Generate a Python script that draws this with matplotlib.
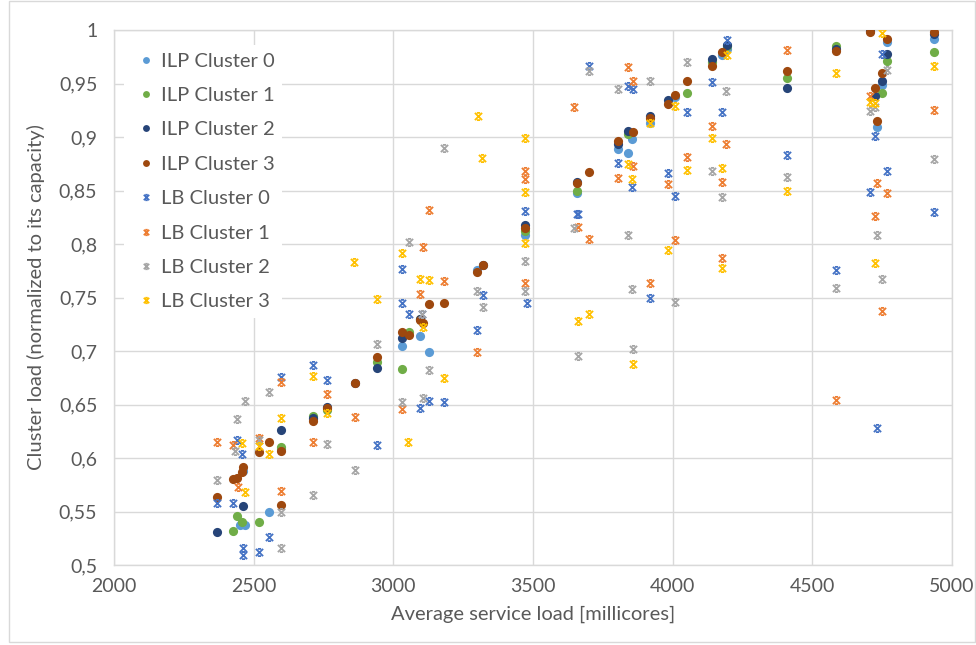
import matplotlib
matplotlib.use("Agg")
import matplotlib.pyplot as plt
from matplotlib.path import Path
from matplotlib.ticker import FixedLocator, FuncFormatter
from matplotlib.patches import Rectangle

plt.rcParams['font.family'] = ['Lato', 'DejaVu Sans']

series_names = ["ILP Cluster 0", "ILP Cluster 1", "ILP Cluster 2", "ILP Cluster 3",
                "LB Cluster 0", "LB Cluster 1", "LB Cluster 2", "LB Cluster 3"]

ilp0_x = [2451, 2469, 2463, 2556, 2597, 2713, 3030, 3096, 3129, 3301, 3473, 3656, 3805, 3839, 3853,
          3919, 4009, 4175, 4193, 4731, 4749, 4767, 4935]
ilp0_y = [0.537, 0.537, 0.588, 0.550, 0.608, 0.636, 0.705, 0.714, 0.699, 0.776, 0.808, 0.848, 0.889, 0.885, 0.898,
          0.913, 0.937, 0.977, 0.982, 0.909, 0.949, 0.989, 0.992]

ilp1_x = [2427, 2439, 2457, 2519, 2597, 2713, 2761, 2941, 3030, 3056, 3096, 3473, 3656, 3839, 4052,
          4142, 4193, 4410, 4585, 4749, 4767, 4935]
ilp1_y = [0.532, 0.546, 0.540, 0.540, 0.610, 0.639, 0.645, 0.690, 0.683, 0.718, 0.730, 0.812, 0.850, 0.903, 0.941,
          0.970, 0.985, 0.955, 0.985, 0.941, 0.971, 0.979]

ilp2_x = [2370, 2463, 2597, 2713, 2761, 2861, 2941, 3030, 3096, 3322, 3473, 3656, 3805, 3839, 3919,
          3984, 4142, 4193, 4410, 4585, 4705, 4723, 4749, 4767, 4935]
ilp2_y = [0.531, 0.555, 0.626, 0.637, 0.648, 0.670, 0.684, 0.712, 0.730, 0.780, 0.818, 0.858, 0.893, 0.906, 0.920,
          0.935, 0.973, 0.986, 0.946, 0.982, 0.999, 0.938, 0.952, 0.978, 0.996]

ilp3_x = [2370, 2427, 2439, 2457, 2463, 2519, 2556, 2597, 2597, 2713, 2761, 2861, 2941, 3030, 3056,
          3096, 3105, 3129, 3181, 3301, 3322, 3473, 3656, 3702, 3805, 3859, 3919, 3984, 4009, 4052,
          4142, 4175, 4410, 4585, 4705, 4723, 4731, 4749, 4767, 4935]
ilp3_y = [0.564, 0.580, 0.581, 0.587, 0.592, 0.606, 0.615, 0.607, 0.556, 0.635, 0.647, 0.670, 0.694, 0.718, 0.715,
          0.729, 0.726, 0.744, 0.745, 0.774, 0.780, 0.815, 0.857, 0.867, 0.896, 0.905, 0.918, 0.931, 0.939, 0.952,
          0.966, 0.979, 0.962, 0.980, 0.998, 0.946, 0.915, 0.960, 0.992, 0.998]

lb0_x = [2370, 2427, 2439, 2457, 2463, 2463, 2519, 2556, 2597, 2713, 2761, 2941, 3030, 3030, 3056,
         3096, 3101, 3129, 3181, 3301, 3322, 3473, 3477, 3656, 3662, 3702, 3805, 3839, 3853, 3859,
         3919, 3984, 4009, 4052, 4140, 4177, 4193, 4410, 4585, 4705, 4723, 4731, 4749, 4767, 4935]
lb0_y = [0.558, 0.558, 0.617, 0.604, 0.516, 0.509, 0.512, 0.526, 0.676, 0.687, 0.673, 0.612, 0.745, 0.777, 0.735,
         0.647, 0.735, 0.653, 0.652, 0.720, 0.752, 0.831, 0.745, 0.828, 0.828, 0.966, 0.876, 0.948, 0.853, 0.945,
         0.750, 0.866, 0.845, 0.923, 0.951, 0.923, 0.991, 0.883, 0.776, 0.849, 0.901, 0.628, 0.978, 0.868, 0.830]

lb1_x = [2370, 2426, 2445, 2519, 2597, 2597, 2713, 2761, 2861, 3030, 3096, 3105, 3129, 3181, 3301,
         3473, 3473, 3473, 3648, 3662, 3700, 3805, 3839, 3859, 3859, 3919, 3984, 4009, 4052, 4140,
         4177, 4177, 4190, 4410, 4585, 4705, 4723, 4731, 4749, 4767, 4935]
lb1_y = [0.615, 0.612, 0.573, 0.619, 0.569, 0.671, 0.615, 0.660, 0.638, 0.646, 0.753, 0.797, 0.832, 0.765, 0.699,
         0.764, 0.868, 0.861, 0.928, 0.816, 0.805, 0.862, 0.965, 0.952, 0.873, 0.764, 0.856, 0.804, 0.881, 0.910,
         0.858, 0.787, 0.893, 0.981, 0.654, 0.938, 0.826, 0.857, 0.737, 0.848, 0.925]

lb2_x = [2370, 2433, 2439, 2469, 2519, 2556, 2597, 2597, 2713, 2761, 2861, 2941, 3030, 3056, 3101,
         3105, 3129, 3181, 3301, 3322, 3473, 3473, 3648, 3662, 3702, 3805, 3839, 3853, 3859, 3919,
         4009, 4052, 4140, 4177, 4190, 4410, 4585, 4705, 4723, 4731, 4749, 4767, 4935]
lb2_y = [0.579, 0.607, 0.636, 0.653, 0.617, 0.662, 0.550, 0.516, 0.565, 0.613, 0.589, 0.707, 0.652, 0.802, 0.735,
         0.656, 0.682, 0.890, 0.756, 0.741, 0.784, 0.756, 0.815, 0.695, 0.962, 0.945, 0.808, 0.758, 0.702, 0.952,
         0.746, 0.970, 0.868, 0.844, 0.943, 0.863, 0.759, 0.924, 0.928, 0.808, 0.767, 0.963, 0.879]

lb3_x = [2457, 2469, 2519, 2556, 2597, 2713, 2761, 2860, 2941, 3030, 3053, 3096, 3105, 3129, 3181,
         3302, 3319, 3473, 3473, 3473, 3662, 3700, 3839, 3853, 3859, 3919, 3984, 4009, 4052, 4140,
         4177, 4177, 4193, 4410, 4585, 4705, 4723, 4723, 4749, 4935]
lb3_y = [0.614, 0.568, 0.611, 0.604, 0.637, 0.677, 0.642, 0.783, 0.749, 0.792, 0.615, 0.767, 0.722, 0.766, 0.675,
         0.920, 0.880, 0.899, 0.849, 0.801, 0.728, 0.735, 0.875, 0.861, 0.688, 0.913, 0.794, 0.929, 0.869, 0.899,
         0.871, 0.778, 0.977, 0.850, 0.960, 0.933, 0.782, 0.932, 0.997, 0.966]

x_ticks = [2000, 2500, 3000, 3500, 4000, 4500, 5000]
y_ticks = [0.5, 0.55, 0.6, 0.65, 0.7, 0.75, 0.8, 0.85, 0.9, 0.95, 1.0]

colors = ["#5B9BD5", "#70AD47", "#264478", "#9E480E",
          "#4472C4", "#ED7D31", "#A5A5A5", "#FFC000"]

# "x with short caps" marker
cross_path = Path(
    [(-1, -1), (1, 1), (-1, 1), (1, -1), (-0.45, 1), (0.45, 1), (-0.45, -1), (0.45, -1)],
    [Path.MOVETO, Path.LINETO, Path.MOVETO, Path.LINETO,
     Path.MOVETO, Path.LINETO, Path.MOVETO, Path.LINETO])

fig = plt.figure(figsize=(9.76, 6.45), dpi=100)
fig.patches.append(Rectangle((0.009, 0.005), 0.99, 0.994, transform=fig.transFigure,
                             fill=False, edgecolor="#D9D9D9", linewidth=1))
ax = fig.add_axes([114 / 976, 1 - 565 / 645, (952 - 114) / 976, (565 - 30) / 645])

data = [(ilp0_x, ilp0_y), (ilp1_x, ilp1_y), (ilp2_x, ilp2_y), (ilp3_x, ilp3_y),
        (lb0_x, lb0_y), (lb1_x, lb1_y), (lb2_x, lb2_y), (lb3_x, lb3_y)]

for i, ((xs, ys), name, c) in enumerate(zip(data, series_names, colors)):
    if i < 4:
        ax.plot(xs, ys, linestyle="none", marker="o", markersize=6.6, color=c,
                markeredgewidth=0, label=name, zorder=3 + i)
    else:
        ax.plot(xs, ys, linestyle="none", marker=cross_path, markersize=5.2, color=c,
                markerfacecolor="none", markeredgewidth=1.3, label=name, zorder=3 + i)

ax.set_xlim(2000, 5000)
ax.set_ylim(0.5, 1.0)
ax.xaxis.set_major_locator(FixedLocator(x_ticks))
ax.yaxis.set_major_locator(FixedLocator(y_ticks))


def yfmt(v, pos):
    s = ("%.2f" % v).rstrip("0").rstrip(".")
    return s.replace(".", ",")


ax.yaxis.set_major_formatter(FuncFormatter(yfmt))
ax.xaxis.set_major_formatter(FuncFormatter(lambda v, p: "%d" % v))

ax.grid(True, color="#D9D9D9", linewidth=1)
ax.set_axisbelow(True)
for s in ax.spines.values():
    s.set_color("#D9D9D9")
    s.set_linewidth(1)
ax.tick_params(axis="y", length=0, labelsize=14, labelcolor="#595959", pad=12)
ax.tick_params(axis="x", length=0, labelsize=14, labelcolor="#595959", pad=9)

ax.set_xlabel("Average service load [millicores]", fontsize=14.5, color="#595959", labelpad=8)
ax.set_ylabel("Cluster load (normalized to its capacity)", fontsize=14.5, color="#595959", labelpad=10)

leg = ax.legend(loc="upper left", bbox_to_anchor=(0.0, 0.99), frameon=True, fontsize=14.5,
                handletextpad=0.0, labelspacing=0.86, borderpad=0.35, handlelength=1.5,
                markerscale=0.75)
leg.get_frame().set_edgecolor("none")
leg.get_frame().set_facecolor("white")
leg.get_frame().set_alpha(1)
for t in leg.get_texts():
    t.set_color("#595959")

fig.savefig("out.png", dpi=100)
